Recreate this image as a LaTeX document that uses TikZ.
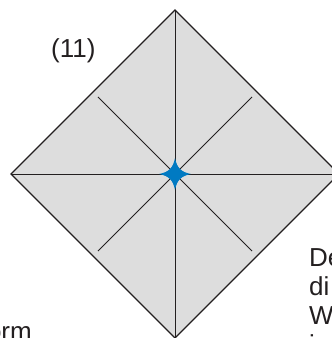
\documentclass[tikz,border=0pt]{standalone}
\usepackage{fontspec}
\setmainfont{Liberation Sans}
\usepackage{xcolor}
\usepackage{tikz}
\usetikzlibrary{
    positioning,
    calc
}
\definecolor{paper}{RGB}{221,221,221}
\definecolor{crease}{RGB}{35,31,32}
\definecolor{pinblue}{RGB}{0,122,194}
\tikzset{
    sheet/.style={
        fill=paper,
        draw=crease,
        line width=1.4pt,
        line join=miter
    },
    fold/.style={
        draw=crease,
        line width=1pt
    },
    halffold/.style={
        draw=crease,
        line width=0.8pt
    },
    caption/.style={
        font=\fontsize{26}{30}\selectfont,
        inner sep=0pt,
        text=crease
    }
}

\begin{document}
\begin{tikzpicture}[x=1pt, y=-1pt]
        \useasboundingbox (0,0) rectangle (332,338);
        \clip (0,0) rectangle (332,338);

        % Corners of the folded square
        \coordinate (top) at (175,10);
        \coordinate (left) at (11,174);
        \coordinate (bottom) at (175,338);
        \coordinate (right) at (339,174);
        \coordinate (hub) at (175,174);

        % Sheet
        \draw[sheet] (top) -- (right) -- (bottom) -- (left) -- cycle;

        % Folds through the centre
        \draw[fold] (top) -- (bottom);
        \draw[fold] (left) -- (right);
        \foreach \ang in {45,135,225,315} {
            \draw[halffold] (hub) -- ++(\ang:109);
        }

        % Centre point
        \fill[pinblue, shift={(hub)}]
            (16,0) .. controls (6,2) and (2,6) .. (0,16)
                   .. controls (-2,6) and (-6,2) .. (-16,0)
                   .. controls (-6,-2) and (-2,-6) .. (0,-16)
                   .. controls (2,-6) and (6,-2) .. cycle;

        % Step number and cut-off text
        \node[caption, anchor=base west] (step) at (51,57) {(11)};
        \node[caption, anchor=base west] (lineA) at (309,266) {De};
        \node[caption, anchor=base west] (lineB) at (309,295) {di};
        \node[caption, anchor=base west] (lineC) at (309,324) {W};
        \node[caption, anchor=base west] (lineD) at (309,353) {i};
        \node[caption, anchor=base east] (lineE) at (32,340) {orm};
    \end{tikzpicture}
\end{document}
